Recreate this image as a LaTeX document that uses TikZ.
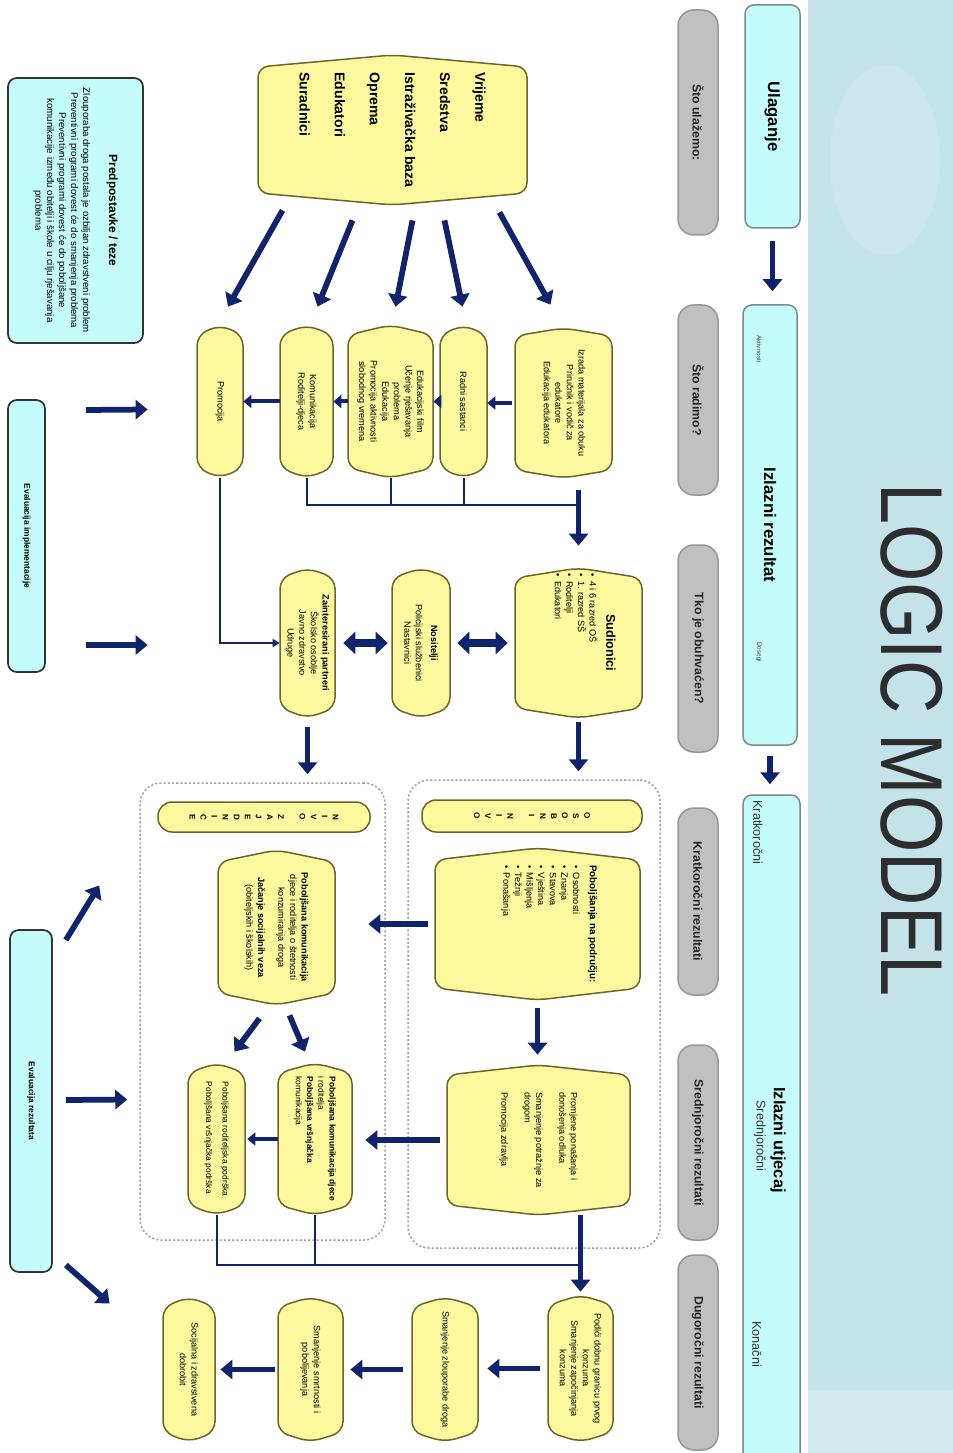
\documentclass[tikz,border=0pt]{standalone}
\usepackage{fontspec}
\setmainfont{Liberation Sans}
\usepackage{graphicx}
\usetikzlibrary{arrows.meta,calc}
\definecolor{yfill}{RGB}{252,248,158}
\definecolor{ydraw}{RGB}{110,100,40}
\definecolor{cfill}{RGB}{196,252,252}
\definecolor{cdraw}{RGB}{120,140,140}
\definecolor{gfill}{RGB}{192,192,192}
\definecolor{gdraw}{RGB}{150,150,150}
\definecolor{navy}{RGB}{16,36,110}
\definecolor{panel}{RGB}{196,227,233}
\definecolor{titlec}{RGB}{45,45,48}
\newcommand\fsz[2]{\fontsize{#1}{#2}\selectfont}
\tikzset{
 ybox/.style={draw=ydraw, fill=yfill, line width=0.3mm, rounded corners=6pt},
 ytext/.style={rotate=-90, align=center, inner sep=0pt, font=\fsz{5.2}{6.6}},
 rtext/.style={rotate=-90, align=center, inner sep=0pt},
 cbox/.style={rotate=-90, draw=cdraw, fill=cfill, line width=0.3mm, rounded corners=5pt, inner sep=0pt, align=center},
 gbox/.style={rotate=-90, draw=gdraw, fill=gfill, line width=0.3mm, rounded corners=9pt, inner sep=0pt, align=center, font=\fsz{7}{8.5}\bfseries, text=black!85},
 lbox/.style={rotate=-90, draw=black!80, fill=cfill, line width=0.35mm, rounded corners=5pt, inner sep=0pt, align=center},
 pill/.style={rotate=-90, draw=ydraw, fill=yfill, line width=0.3mm, rounded corners=8pt, inner sep=0pt, align=center, font=\fsz{4.6}{6.3}\bfseries},
 cont/.style={draw=gray!75, dash pattern=on 1.2pt off 1.2pt, line width=0.3mm, rounded corners=12pt, inner sep=0pt},
 arr/.style={draw=navy, line width=1.15mm, -{Triangle[length=2.4mm,width=3.8mm]}},
 marr/.style={draw=navy, line width=0.8mm, -{Triangle[length=1.6mm,width=2.6mm]}},
 darr/.style={draw=navy, line width=1.5mm, {Triangle[length=2.4mm,width=4.4mm]}-{Triangle[length=2.4mm,width=4.4mm]}},
 tline/.style={draw=navy, line width=0.4mm},
 tarr/.style={draw=navy, line width=0.4mm, -{Triangle[length=1.4mm,width=1.6mm]}},
}
% chevron-shaped yellow box: [node opts]{name}{x1}{y1}{x2}{y2}{depth}{text}
\newcommand\ychev[8][]{%
  \draw[ybox] (#3,#4+#7) -- ({(#3+#5)/2},#4) -- (#5,#4+#7) -- (#5,#6-#7) -- ({(#3+#5)/2},#6) -- (#3,#6-#7) -- cycle;
  \node[ytext, minimum width={(#6-#4)*0.2mm}, minimum height={(#5-#3)*0.2mm}, #1] (#2) at ({(#3+#5)/2},{(#4+#6)/2}) {#8};
}
% rotated rectangle node: {style}{name}{x1}{y1}{x2}{y2}{text}
\newcommand\rnode[7]{%
  \node[#1, minimum width={(#6-#4)*0.2mm}, minimum height={(#5-#3)*0.2mm}] (#2) at ({(#3+#5)/2},{(#4+#6)/2}) {#7};
}
\begin{document}
\begin{tikzpicture}[x=0.2mm,y=-0.2mm]
\useasboundingbox (0,0) rectangle (953,1453);
\fill[white] (0,0) rectangle (953,1453);
% right panel
\fill[panel] (808,0) rectangle (953,1453);
\fill[white, opacity=0.15] (885,160) ellipse [x radius=55, y radius=95];
\fill[white, opacity=0.25] (808,1390) rectangle (953,1453);
\node[rtext, font=\fsz{50}{50}, text=titlec] (T) at (912,740) {\scalebox{0.84}[1]{LOGIC MODEL}};

% gray question boxes
\rnode{gbox}{G1}{678}{10}{718}{235}{Što ulažemo:}
\rnode{gbox}{G2}{678}{305}{718}{495}{Što radimo?}
\rnode{gbox}{G3}{678}{545}{718}{752}{Tko je obuhvaćen?}
\rnode{gbox}{G4}{678}{808}{718}{995}{Kratkoročni rezultati}
\rnode{gbox}{G5}{678}{1045}{718}{1240}{Srednjoročni rezultati}
\rnode{gbox}{G6}{678}{1255}{718}{1450}{Dugoročni rezultati}

% cyan column
\rnode{cbox, font=\fsz{9.5}{11}\bfseries}{C1}{745}{5}{800}{228}{Ulaganje}
\rnode{cbox, font=\fsz{9.5}{11}\bfseries}{C2}{743}{305}{797}{745}{Izlazni rezultat}
\rnode{cbox}{C3}{743}{795}{800}{1470}{}
\node[rtext, font=\fsz{3.6}{4}, text=black!75, anchor=west] (C2a) at (759,335) {Aktivnosti};
\node[rtext, font=\fsz{3.6}{4}, text=black!75, anchor=west] (C2b) at (759,642) {Dosegi};
\node[rtext, font=\fsz{7.2}{8}, text=black!80, anchor=west] (C3a) at (758,800) {Kratkoročni};
\node[rtext, font=\fsz{9.3}{10}\bfseries] (C3b) at (778,1140) {Izlazni utjecaj};
\node[rtext, font=\fsz{7.2}{8}, text=black!80] (C3c) at (760,1136) {Srednjoročni};
\node[rtext, font=\fsz{7.2}{8}, text=black!80] (C3d) at (757,1344) {Konačni};
\draw[arr, shorten <=2.4mm, shorten >=2.6mm] (C1.east) -- (C1.east |- C2.west);
\draw[arr, shorten <=2mm, shorten >=2mm] (C2.east) -- (C2.east |- C3.west);

% left cyan boxes
\rnode{lbox, font=\fsz{5.5}{6.8}}{L1}{8}{78}{143}{343}{{\fsz{6.8}{8}\bfseries Predpostavke / teze}\\[8pt]Zlouporaba droga postala je ozbiljan zdravstveni problem\\Preventivni programi dovest će do smanjenja problema\\Preventivni programi dovest će do poboljšane\\komunikacije između obitelji i škole u cilju rješavanja\\problema}
\rnode{lbox, font=\fsz{4.8}{6}\bfseries}{L2}{8}{400}{45}{672}{Evaluacija implementacije}
\rnode{lbox, font=\fsz{4.8}{6}\bfseries}{L3}{10}{930}{52}{1272}{Evaluacija rezultata}

% inputs
\ychev[align=left, font=\fsz{8}{20}\bfseries]{V}{258}{55}{527}{205}{12}{Vrijeme\\Sredstva\\Istraživačka baza\\Oprema\\Edukatori\\Suradnici}

% activities
\ychev{A1}{515}{328}{612}{478}{8}{Izrada materijala za obuku\\Priručnik i vodič za\\edukatore\\Edukacija edukatora}
\ychev{A2}{440}{325}{487}{478}{10}{Radni sastanci}
\ychev{A3}{348}{325}{433}{478}{10}{Edukacijski film\\Učenje rješavanja\\problema\\Edukacija\\Promocija aktivnosti\\slobodnog vremena}
\ychev{A4}{280}{325}{333}{478}{10}{Komunikacija\\Roditelji-djeca}
\ychev{A5}{197}{325}{243}{478}{10}{Promocija}

\draw[arr] ($(V.east)+(107,7)$) -- ($(A1.west)+(-13,-23)$);
\draw[arr] ($(V.east)+(52,15)$) -- ($(A2.west)+(-1,-18)$);
\draw[arr] ($(V.east)+(20,15)$) -- ($(A3.west)+(5,-18)$);
\draw[arr] ($(V.east)+(-40,15)$) -- ($(A4.west)+(11,-18)$);
\draw[arr] ($(V.east)+(-110,5)$) -- ($(A5.west)+(8,-18)$);

\draw[marr, shorten <=0.6mm] (A1.south) -- (A1.south -| A2.north);
\draw[marr] (A2.south) -- (A2.south -| A3.north);
\draw[marr] (A3.south) -- (A3.south -| A4.north);
\draw[marr] (A4.south) -- (A4.south -| A5.north);

% outputs (participants)
\ychev{S}{515}{568}{642}{718}{10}{}
\node[rtext, font=\fsz{7.2}{8}\bfseries] (St) at (611,643) {Sudionici};
\node[rtext, font=\fsz{5.2}{6.6}, align=left, anchor=north west] (Sl) at (598,573) {•\enspace 4 i 6 razred OŠ\\•\enspace 1. razred SŠ\\•\enspace Roditelji\\•\enspace Edukatori};
\ychev{N}{392}{568}{450}{718}{10}{\textbf{Nositelji}\\[2pt]Policijski službenici\\Nastavnici}
\ychev{Z}{280}{568}{335}{718}{10}{\textbf{Zainteresirani partneri}\\Školsko osoblje\\Javno zdravstvo\\Udruge}

\draw[tline] (A4.east) |- ($(S.west)+(0,-63)$);
\draw[tline] (A3.east) -- ++(0,27);
\draw[tline] (A2.east) -- ++(0,27);
\draw[arr] ($(A1.east)+(15,12)$) -- ($(S.west)+(0,-22)$);
\draw[tarr] (A5.east) |- (Z.south);
\draw[darr, shorten <=1.4mm, shorten >=1.4mm] (S.south) -- (S.south -| N.north);
\draw[darr, shorten <=0.8mm, shorten >=1.6mm] (N.south) -- (N.south -| Z.north);

% containers
\node[cont, minimum width={(660-408)*0.2mm}, minimum height={(1248-780)*0.2mm}] (RC) at (534,1014) {};
\node[cont, minimum width={(385-140)*0.2mm}, minimum height={(1240-783)*0.2mm}] (LC) at (262.5,1011.5) {};
\rnode{pill}{PR}{422}{800}{642}{832}{O\\S\\O\\B\\N\\I\\[6pt]N\\I\\V\\O}
\rnode{pill}{PL}{158}{802}{370}{832}{N\\I\\V\\O\\[6pt]Z\\A\\J\\E\\D\\N\\I\\C\\E}
\draw[arr, shorten <=0.8mm, shorten >=1.6mm] (S.east) -- (S.east |- RC.north);
\draw[arr, shorten <=1.8mm, shorten >=1.6mm] (Z.east) -- (Z.east |- LC.north);

% personal level
\ychev[align=left]{P1}{435}{848}{640}{1000}{12}{{\fsz{5.6}{7}\bfseries Poboljšanja na području:}\\[3pt]•\enspace Osobnosti\\•\enspace Znanja\\•\enspace Stavova\\•\enspace Vještina\\•\enspace Mišljenja\\•\enspace Težnji\\•\enspace Ponašanja\\[8pt]\mbox{}}
\ychev[align=left]{P2}{447}{1065}{630}{1215}{10}{Promjene ponašanja i\\donošenja odluka\\[6.6pt]Smanjenje potražnje za\\drogom\\[6.6pt]Promocija zdravlja}

% community level
\ychev{Q1}{218}{850}{335}{1005}{12}{\textbf{Poboljšana komunikacija}\\djece i roditelja o štetnosti\\konzumiranja droga\\[5pt]\textbf{Jačanje socijalnih veza}\\(obiteljskih i školskih)}
\ychev[align=left, font=\fsz{4.8}{6.4}]{Q2}{278}{1063}{352}{1215}{10}{\textbf{Poboljšana komunikacija djece}\\i roditelja\\\textbf{Poboljšana vršnjačka}\\komunikacija}
\ychev[align=left, font=\fsz{4.8}{6.4}]{Q3}{188}{1063}{245}{1215}{10}{Poboljšana roditeljska podrška\\[3pt]Poboljšana vršnjačka podrška}

\draw[arr, shorten <=1.6mm, shorten >=2mm] (P1.east) -- (P1.east |- P2.west);
\draw[arr, shorten <=1.4mm, shorten >=6.6mm] (P1.south) -- (P1.south -| Q1.north);
\draw[arr, shorten <=1.4mm, shorten >=2.6mm] (P2.south) -- (P2.south -| Q2.north);
\draw[arr] ($(Q1.east)+(13,10)$) -- ($(Q2.west)+(-10,-11)$);
\draw[arr] ($(Q1.east)+(-17,13)$) -- ($(Q3.west)+(18,-11)$);
\draw[marr, shorten >=0.4mm] (Q2.south) -- (Q2.south -| Q3.north);

% long-term
\ychev{B1}{548}{1295}{613}{1442}{10}{Podići dobnu granicu prvog\\konzuma\\Smanjenje započinjanja\\konzuma}
\ychev{B2}{412}{1297}{478}{1442}{10}{Smanjenje zlouporabe droga}
\ychev{B3}{278}{1297}{343}{1442}{10}{Smanjenje smrtnosti i\\pobolijevanja}
\ychev{B4}{163}{1297}{215}{1442}{10}{Socijalna i zdravstvena\\dobrobit}

\draw[tline] (Q3.east) |- ($(B1.west)+(0,-30)$);
\draw[tline] (Q2.east) -- ++(0,50);
\draw[arr, shorten >=0.6mm] (P2.east -| B1.west) -- (B1.west);
\draw[arr, shorten <=1.6mm, shorten >=1.8mm] (B1.south) -- (B1.south -| B2.north);
\draw[arr, shorten <=1.8mm, shorten >=1.4mm] (B2.south) -- (B2.south -| B3.north);
\draw[arr, shorten <=0.6mm, shorten >=1mm] (B3.south) -- (B3.south -| B4.north);

% evaluation arrows
\draw[arr] ($(L2.north)+(40,-126)$) -- ($(A5.south)+(-49,8)$);
\draw[arr] ($(L2.north)+(40,109)$) -- ($(Z.south)+(-132,2)$);
\draw[arr] ($(L3.north)+(13,-1)$) -- ($(LC.west)+(-12,88)$);
\draw[arr] ($(L3.north)+(13,-161)$) -- ($(LC.west)+(-40,-126)$);
\draw[arr] ($(L3.north)+(13,164)$) -- ($(B4.south)+(-53,-66)$);
\end{tikzpicture}
\end{document}
